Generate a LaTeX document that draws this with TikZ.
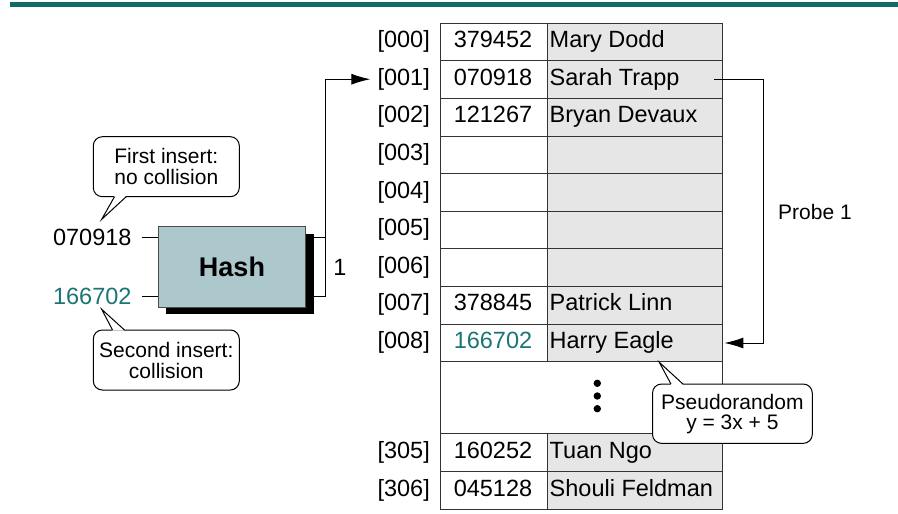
\documentclass[tikz,border=0pt]{standalone}
\usepackage{fontspec}
\setmainfont{Liberation Sans}
\usetikzlibrary{arrows.meta,shadows,calc}
\definecolor{teal1}{HTML}{10696B}
\definecolor{keyteal}{HTML}{1C7474}
\definecolor{hashfill}{HTML}{ADC8CC}
\definecolor{cellgray}{HTML}{E6E6E6}
\definecolor{gridline}{HTML}{333333}
\begin{document}
\begin{tikzpicture}[x=1pt,y=-1pt,
  every node/.style={font=\fontsize{23.5}{28}\selectfont},
  keycell/.style={draw=gridline, line width=1.1pt, fill=white, minimum width=106.5pt, minimum height=37.6pt, anchor=north west, inner sep=0pt},
  namecell/.style={keycell, fill=cellgray, minimum width=175.5pt},
  idx/.style={anchor=base east, inner sep=0pt},
  keytxt/.style={anchor=base, inner sep=0pt},
  nametxt/.style={anchor=base west, inner sep=0pt},
  callout/.style={draw, line width=1pt, rounded corners=9pt, fill=white, font=\fontsize{21}{21}\selectfont, align=center, inner sep=0pt},
  conn/.style={line width=1pt},
  arr/.style={conn, -{Latex[length=19pt,width=11pt]}},
]
\useasboundingbox (0,0) rectangle (898,514);
\fill[teal1] (10,2.3) rectangle (898,7.3);

% table rows
\foreach \i/\k/\n/\t/\c in {000/379452/Mary Dodd/22.7/black,
  001/070918/Sarah Trapp/60.3/black,
  002/121267/Bryan Devaux/97.9/black,
  003///135.5/black,
  004///173.1/black,
  005///210.7/black,
  006///248.3/black,
  007/378845/Patrick Linn/285.9/black,
  008/166702/Harry Eagle/323.5/keyteal,
  305/160252/Tuan Ngo/433.3/black,
  306/045128/Shouli Feldman/471.2/black}{
  \node[keycell, minimum height=37.9pt] (k\i) at (440,\t) {};
  \node[namecell, minimum height=37.9pt] (n\i) at (546.5,\t) {};
  \node[idx] (i\i) at (430,\t+25) {[\i]};
  \node[keytxt, text=\c] (kt\i) at (493,\t+25) {\k};
  \node[nametxt] (nt\i) at (549.5,\t+25) {\n};
}
\node[keycell, minimum width=282pt, minimum height=72.2pt] (gap) at (440,361.1) {};
\foreach \y in {383.3,396,408.7} \fill (597.3,\y) circle (3.7pt);

% hash
\node[draw=gray!60!black, line width=0.8pt, fill=hashfill, minimum width=147.4pt, minimum height=80.6pt,
  font=\fontsize{27}{27}\selectfont\bfseries,
  drop shadow={shadow xshift=8pt, shadow yshift=-7pt, fill=black, opacity=1}] (hash) at (232,267) {Hash};

\node[anchor=east, inner xsep=10pt, inner ysep=0pt] (in0) at (141.7,237) {070918};
\node[anchor=east, inner xsep=10pt, inner ysep=0pt, text=keyteal] (in1) at (141.7,296.5) {166702};
\draw[conn] (in0.east) -- (in0.east -| hash.west);
\draw[conn] (in1.east) -- (in1.east -| hash.west);
\coordinate (bus) at (325,0);
\draw[conn] (in0 -| hash.east) -- (in0 -| bus);
\draw[arr] (in1 -| hash.east) -- (in1 -| bus) |- ([xshift=-7pt]i001.west);
\node (one) at (340,267) {1};

% probe
\coordinate (pr) at (763.3,0);
\draw[arr] ([xshift=-9pt]n001.east) -- (n001.east -| pr) |- ([xshift=1.3pt]n008.east);
\node[font=\fontsize{21}{21}\selectfont] (probe) at (815,212) {Probe 1};

% callouts
\node[callout, minimum width=146pt, minimum height=60pt] (c1) at (166.3,166.7) {First insert:\\no collision};
\fill[white] ($(c1.south west)+(21.7,-1.2)$) -- (101.7,219.3) -- ($(c1.south west)+(33.4,-1.2)$) -- cycle;
\draw[conn] ($(c1.south west)+(21.7,-0.5)$) -- (101.7,219.3) -- ($(c1.south west)+(33.4,-0.5)$);

\node[callout, minimum width=146pt, minimum height=60pt] (c2) at (166.3,360) {Second insert:\\collision};
\fill[white] ($(c2.north west)+(19.7,1.2)$) -- (101.7,309.3) -- ($(c2.north west)+(31.7,1.2)$) -- cycle;
\draw[conn] ($(c2.north west)+(19.7,0.5)$) -- (101.7,309.3) -- ($(c2.north west)+(31.7,0.5)$);

\node[callout, minimum width=159.8pt, minimum height=59.3pt, font=\fontsize{21}{20}\selectfont] (c3) at (732.4,413.7) {Pseudorandom\\y = 3x + 5};
\fill[white] ($(c3.north west)+(19,1.2)$) -- (659.3,362.3) -- ($(c3.north west)+(31,1.2)$) -- cycle;
\draw[conn] ($(c3.north west)+(19,0.5)$) -- (659.3,362.3) -- ($(c3.north west)+(31,0.5)$);
\end{tikzpicture}
\end{document}
